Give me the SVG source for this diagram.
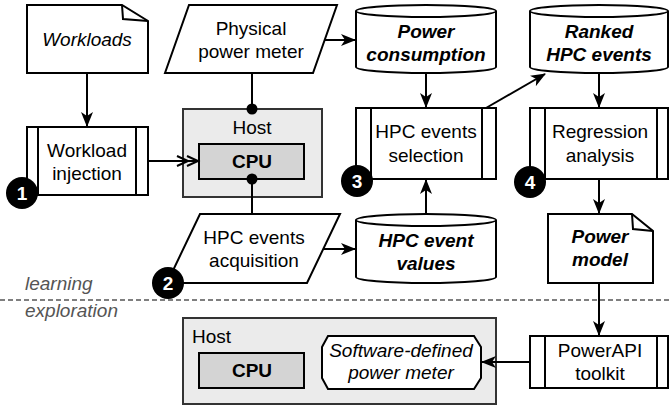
<svg xmlns="http://www.w3.org/2000/svg" width="669" height="405" viewBox="0 0 669 405">
<defs>
<style>
text{font-family:"Liberation Sans",Arial,sans-serif;font-size:19px;fill:#000;text-anchor:middle}
.it{font-style:italic}
.bi{font-style:italic;font-weight:bold}
.b{font-weight:bold}
.shape{fill:#fff;stroke:#000;stroke-width:2}
.host{fill:#ebebeb;stroke:#333;stroke-width:2}
.cpu{fill:#d4d4d4;stroke:#000;stroke-width:2}
.ln{fill:none;stroke:#000;stroke-width:2}
.arr{fill:none;stroke:#000;stroke-width:2;marker-end:url(#ah)}
.num{fill:#000}
.numt{fill:#fff;font-weight:bold;font-size:19px}
.lbl{fill:#555;text-anchor:start;font-style:italic}
</style>
<marker id="ah" markerUnits="userSpaceOnUse" viewBox="0 0 15 12" markerWidth="15" markerHeight="12" refX="14" refY="6" orient="auto">
<path d="M0,0 L15,6 L0,12 L4,6 Z" fill="#000"/>
</marker>
</defs>
<rect width="669" height="405" fill="#fff"/>

<g id="workloads">
<path class="shape" d="M27,5 H122 L148,21 V73 H27 Z"/>
<path class="ln" d="M122,5 L123,19 L148,21"/>
<text class="it" x="87" y="46">Workloads</text>
</g>

<g id="workload-injection">
<rect class="shape" x="27" y="127" width="121" height="68"/>
<path class="ln" d="M38,127 V195 M136,127 V195"/>
<text x="87" y="157">Workload</text>
<text x="87" y="180">injection</text>
</g>

<g id="physical-power-meter">
<path class="shape" d="M189,5 H337 L313,73 H165 Z"/>
<text x="251" y="35">Physical</text>
<text x="251" y="58">power meter</text>
</g>

<g id="host">
<rect class="host" x="183" y="109" width="139" height="88"/>
<text x="252" y="134">Host</text>
<rect class="cpu" x="199" y="144" width="105" height="35"/>
<text class="b" x="252" y="168">CPU</text>
</g>

<g id="hpc-acquisition">
<path class="shape" d="M200,214 H340 L307,283 H167 Z"/>
<text x="254" y="244">HPC events</text>
<text x="254" y="267">acquisition</text>
</g>

<g id="power-consumption">
<path class="shape" d="M356,11 V67 A70,6 0 0 0 496,67 V11"/>
<ellipse class="shape" cx="426" cy="11" rx="70" ry="6"/>
<text class="bi" x="426" y="38">Power</text>
<text class="bi" x="426" y="61">consumption</text>
</g>

<g id="hpc-selection">
<rect class="shape" x="356" y="108" width="140" height="71"/>
<path class="ln" d="M371,108 V179 M482,108 V179"/>
<text x="426" y="138">HPC events</text>
<text x="426" y="162">selection</text>
</g>

<g id="hpc-values">
<path class="shape" d="M356,220 V277 A70,6 0 0 0 496,277 V220"/>
<ellipse class="shape" cx="426" cy="220" rx="70" ry="6"/>
<text class="bi" x="426" y="247">HPC event</text>
<text class="bi" x="426" y="270">values</text>
</g>

<g id="ranked-hpc">
<path class="shape" d="M530,11 V67 A69,6 0 0 0 668,67 V11"/>
<ellipse class="shape" cx="599" cy="11" rx="69" ry="6"/>
<text class="bi" x="599" y="38">Ranked</text>
<text class="bi" x="599" y="61">HPC events</text>
</g>

<g id="regression">
<rect class="shape" x="530" y="108" width="138" height="71"/>
<path class="ln" d="M545,108 V179 M657,108 V179"/>
<text x="600" y="138">Regression</text>
<text x="600" y="162">analysis</text>
</g>

<g id="power-model">
<path class="shape" d="M548,214 H632 L653,231 V283 H548 Z"/>
<path class="ln" d="M632,214 L633,229 L653,231"/>
<text class="bi" x="600" y="243">Power</text>
<text class="bi" x="600" y="266">model</text>
</g>

<g id="powerapi">
<rect class="shape" x="530" y="336" width="138" height="52"/>
<path class="ln" d="M545,336 V388 M657,336 V388"/>
<text x="600" y="357">PowerAPI</text>
<text x="600" y="380">toolkit</text>
</g>

<g id="host-exploration">
<rect class="host" x="183" y="318" width="313" height="86"/>
<text x="192" y="343" style="text-anchor:start">Host</text>
<rect class="cpu" x="199" y="353" width="105" height="35"/>
<text class="b" x="252" y="377">CPU</text>
<path class="shape" d="M328,336 H474 L481,347 V378 L474,389 H328 L322,378 V347 Z"/>
<text class="it" x="401" y="357">Software-defined</text>
<text class="it" x="401" y="379">power meter</text>
</g>

<g id="connectors">
<path class="arr" d="M87,73 V126"/>
<path class="ln" d="M148,161 H198"/>
<path class="ln" d="M177,156 L188,161 L177,166 M187,156 L198,161 L187,166"/>
<path class="ln" d="M252,73 V109"/>
<circle cx="252" cy="109" r="5.5" fill="#000"/>
<path class="ln" d="M252,179 V214"/>
<circle cx="252" cy="179" r="5.5" fill="#000"/>
<path class="arr" d="M325,40 H355"/>
<path class="arr" d="M323,249 H355"/>
<path class="arr" d="M426,214 V180"/>
<path class="arr" d="M426,73 V107"/>
<path class="arr" d="M486,108 L545,74"/>
<path class="arr" d="M599,73 V107"/>
<path class="arr" d="M599,179 V213"/>
<path class="arr" d="M599,283 V335"/>
<path class="arr" d="M530,362 H482"/>
<path d="M0,300 H669" stroke="#555" stroke-width="1.5" stroke-dasharray="5,3" fill="none"/>
</g>

<g id="labels">
<text class="lbl" x="25" y="290">learning</text>
<text class="lbl" x="25" y="317">exploration</text>
</g>

<g id="step-1"><circle class="num" cx="22" cy="193" r="16"/><text class="numt" x="22" y="200">1</text></g>
<g id="step-2"><circle class="num" cx="168" cy="283" r="16"/><text class="numt" x="168" y="290">2</text></g>
<g id="step-3"><circle class="num" cx="357" cy="181" r="16"/><text class="numt" x="357" y="188">3</text></g>
<g id="step-4"><circle class="num" cx="530" cy="182" r="16"/><text class="numt" x="530" y="189">4</text></g>
</svg>
